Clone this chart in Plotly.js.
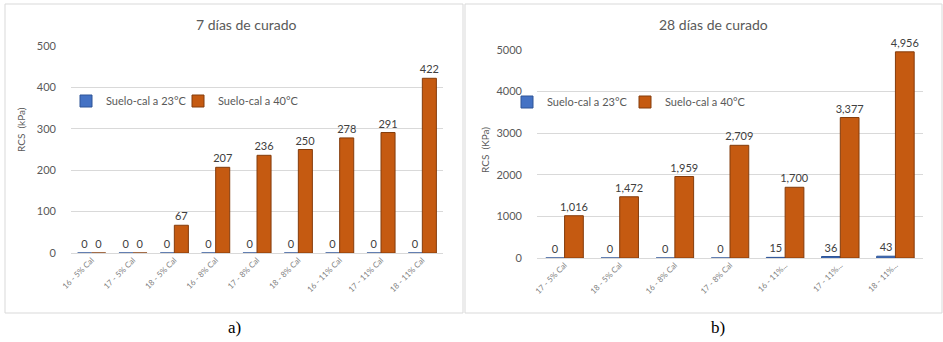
<!DOCTYPE html>
<html>
<head>
<meta charset="utf-8">
<script src="https://cdn.plot.ly/plotly-3.0.1.min.js"></script>
<style>html,body{margin:0;padding:0;background:#fff}#chart{width:943px;height:342px}</style>
</head>
<body>
<div id="chart"></div>
<script>
// ---- Data ----
const categories7 = ["16 - 5% Cal","17 - 5% Cal","18 - 5% Cal","16 - 8% Cal","17 - 8% Cal","18 - 8% Cal","16 - 11% Cal","17 - 11% Cal","18 - 11% Cal"];
const ticks7 = ["16 - 5% Cal","17 - 5% Cal","18 - 5% Cal","16 - 8% Cal","17 - 8% Cal","18 - 8% Cal","16 - 11% Cal","17 - 11% Cal","18 - 11% Cal"];
const cal23_7 = [0,0,0,0,0,0,0,0,0];
const cal40_7 = [0,0,67,207,236,250,278,291,422];

const categories28 = ["17 - 5% Cal","18 - 5% Cal","16 - 8% Cal","17 - 8% Cal","16 - 11% Cal","17 - 11% Cal","18 - 11% Cal"];
const ticks28 = ["17 - 5% Cal","18 - 5% Cal","16 - 8% Cal","17 - 8% Cal","16 - 11%...","17 - 11%...","18 - 11%..."];
const cal23_28 = [0,0,0,0,15,36,43];
const cal40_28 = [1016,1472,1959,2709,1700,3377,4956];

const seriesNames = ["Suelo-cal a 23°C","Suelo-cal a 40°C"];
const titles = ["7 días de curado","28 días de curado"];
const yTitles = ["RCS  (kPa)","RCS  (KPa)"];
const captions = ["a)","b)"];

// ---- Styling ----
const W = 943, H = 342;
const px = x => x / W, py = y => 1 - y / H;
const BLUE = "#4472C4", ORANGE = "#C55A11", DARK = "#843C0C";
const GREY = "#595959";
const FONT = "Lato, 'Open Sans', sans-serif";

function barTrace(x, y, name, color, lineColor, xa, ya, legend, fmt) {
  return {
    type: "bar", x: x, y: y, name: name, xaxis: xa, yaxis: ya, legend: legend,
    showlegend: true,
    marker: {color: color, line: {color: lineColor, width: 1}},
    text: y, texttemplate: fmt, textposition: "outside", cliponaxis: false,
    constraintext: "none",
    textfont: {family: FONT, size: 11, color: "#404040"}
  };
}

const data = [
  barTrace(categories7, cal23_7, seriesNames[0], BLUE, "#2F5597", "x", "y", "legend", "%{y}"),
  barTrace(categories7, cal40_7, seriesNames[1], ORANGE, DARK, "x", "y", "legend2", "%{y}"),
  barTrace(categories28, cal23_28, seriesNames[0], BLUE, "#2F5597", "x2", "y2", "legend3", "%{y:,}"),
  barTrace(categories28, cal40_28, seriesNames[1], ORANGE, DARK, "x2", "y2", "legend4", "%{y:,}")
];

const tickFont = {family: FONT, size: 11, color: GREY};
const catFont = {family: FONT, size: 8, color: "#7f7f7f"};

function xAxis(domain, cats, labels, anchor) {
  return {domain: domain, anchor: anchor, type: "category", tickmode: "array",
    tickvals: cats, ticktext: labels, tickangle: -45, tickfont: catFont,
    showgrid: false, showline: false, ticks: "", zeroline: false, fixedrange: true};
}
function yAxis(domain, range, dtick, anchor) {
  return {domain: domain, anchor: anchor, range: range, dtick: dtick,
    showgrid: true, gridcolor: "#d9d9d9", gridwidth: 1, zeroline: true,
    zerolinecolor: "#d9d9d9", showline: false, ticks: "", tickfont: tickFont,
    ticklabelstandoff: 14, fixedrange: true};
}

const legFont = {family: FONT, size: 11, color: GREY};
function leg(x, y) {
  return {orientation: "h", x: px(x), y: py(y), xanchor: "left", yanchor: "middle",
    font: legFont, bgcolor: "rgba(0,0,0,0)", itemwidth: 30, visible: true};
}

const layout = {
  width: W, height: H, margin: {l: 0, r: 0, t: 0, b: 0},
  paper_bgcolor: "#fff", plot_bgcolor: "#fff",
  font: {family: FONT, color: GREY},
  showlegend: true,
  barmode: "group", bargap: 0.32, bargroupgap: 0,
  xaxis: xAxis([px(71), px(443)], categories7, ticks7, "y"),
  yaxis: yAxis([py(253), py(46)], [0, 500], 100, "x"),
  xaxis2: xAxis([px(537), px(923)], categories28, ticks28, "y2"),
  yaxis2: yAxis([py(258), py(50)], [0, 5000], 1000, "x2"),
  legend: leg(66, 101),
  legend2: leg(178, 101),
  legend3: leg(507, 102),
  legend4: leg(625, 102),
  shapes: [
    {type: "rect", xref: "paper", yref: "paper", x0: px(5), x1: px(463), y0: py(313), y1: py(4), line: {color: "#d9d9d9", width: 1}},
    {type: "rect", xref: "paper", yref: "paper", x0: px(465), x1: px(942), y0: py(313), y1: py(4), line: {color: "#d9d9d9", width: 1}}
  ],
  annotations: [
    {text: titles[0], xref: "paper", yref: "paper", x: px(246), y: py(25), xanchor: "center", yanchor: "middle", showarrow: false, font: {family: FONT, size: 14, color: GREY}},
    {text: titles[1], xref: "paper", yref: "paper", x: px(713), y: py(25), xanchor: "center", yanchor: "middle", showarrow: false, font: {family: FONT, size: 14, color: GREY}},
    {text: yTitles[0], xref: "paper", yref: "paper", x: px(21), y: py(130), xanchor: "center", yanchor: "middle", textangle: -90, showarrow: false, font: {family: FONT, size: 10, color: GREY}},
    {text: yTitles[1], xref: "paper", yref: "paper", x: px(485), y: py(150), xanchor: "center", yanchor: "middle", textangle: -90, showarrow: false, font: {family: FONT, size: 10, color: GREY}},
    {text: captions[0], xref: "paper", yref: "paper", x: px(234), y: py(327), xanchor: "center", yanchor: "middle", showarrow: false, font: {family: "'Liberation Serif', serif", size: 17, color: "#000"}},
    {text: captions[1], xref: "paper", yref: "paper", x: px(718), y: py(327), xanchor: "center", yanchor: "middle", showarrow: false, font: {family: "'Liberation Serif', serif", size: 17, color: "#000"}}
  ]
};

Plotly.newPlot("chart", data, layout, {displayModeBar: false, staticPlot: true});
</script>
</body>
</html>
